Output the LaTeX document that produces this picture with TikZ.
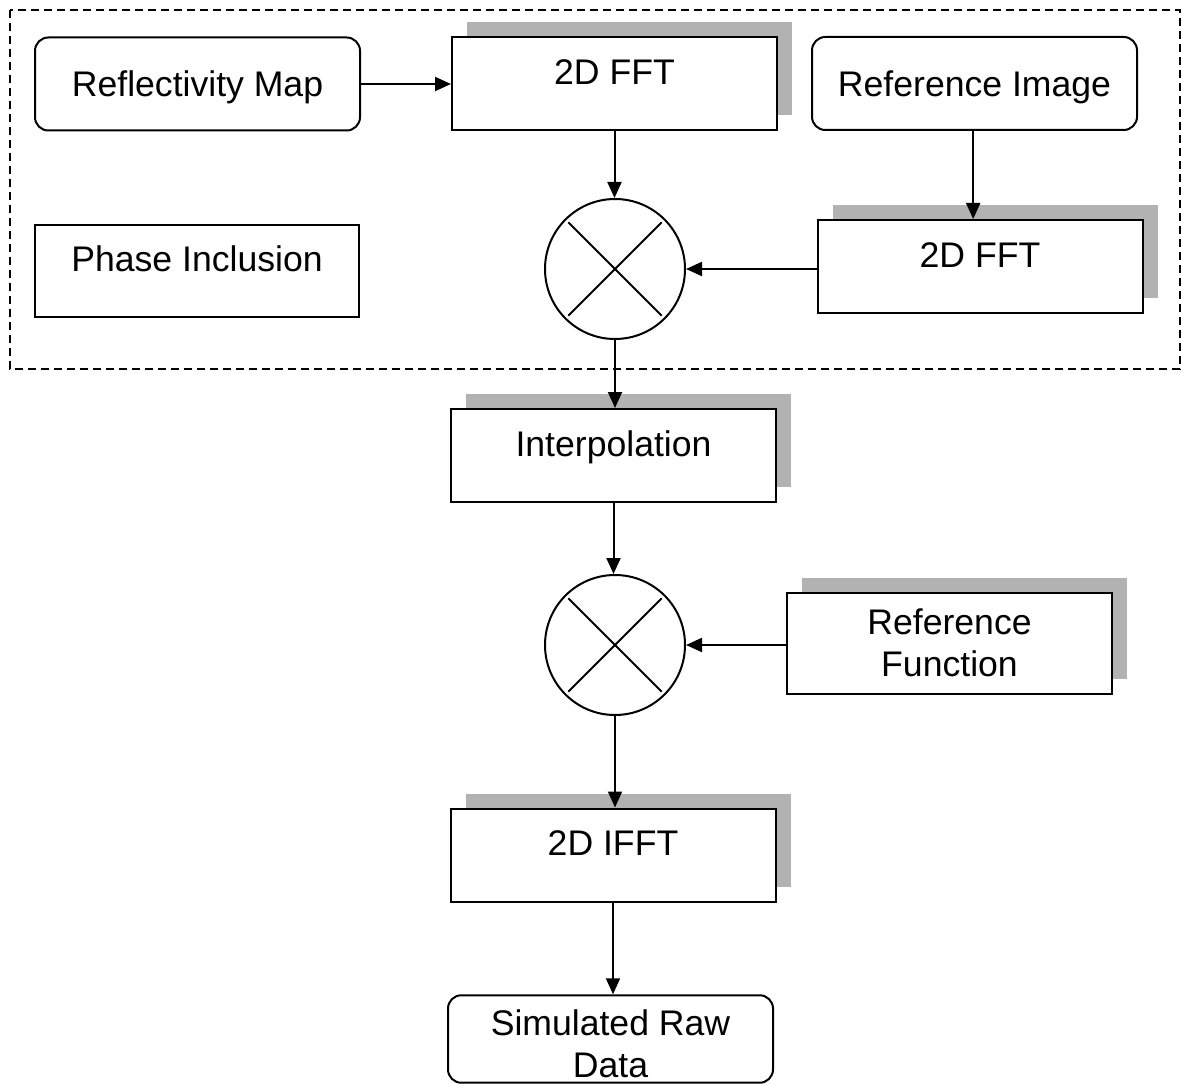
\documentclass[tikz,border=0pt]{standalone}
\usepackage{fontspec}
\setmainfont{Liberation Sans}
\usetikzlibrary{shapes.geometric, arrows.meta, shadows, calc}
\begin{document}
\begin{tikzpicture}[x=0.75pt, y=-0.75pt,
  font=\fontsize{26.7pt}{31.5pt}\selectfont,
  base/.style={draw=black, line width=1.5pt, fill=white, inner sep=0pt,
    minimum width=243.75pt, minimum height=69.75pt},
  rbox/.style={base, rounded corners=10pt, text height=19pt, text depth=0pt},
  shad/.style={general shadow={shadow xshift=11.25pt, shadow yshift=11.25pt, fill=black!30}},
  sbox/.style={base, shad, text height=19pt, text depth=18pt},
  pbox/.style={base, text height=19pt, text depth=18pt},
  tbox/.style={base, shad, align=center},
  mult/.style={circle, draw, line width=1.5pt, minimum size=105pt, inner sep=0pt, fill=white},
  arr/.style={line width=1.5pt, -{Triangle[length=12pt,width=10.5pt]}},
  grp/.style={line width=1.5pt, dash pattern=on 6pt off 3.75pt},
  crossline/.style={line width=1.5pt}
]
\useasboundingbox (0,0) rectangle (1181,1084);

% grouping frame
\draw[grp] (10,10) rectangle (1180,369);

% nodes
\node[rbox] (refl) at (197.5,84) {Reflectivity Map};
\node[sbox] (fft1) at (614.5,83.5) {2D FFT};
\node[rbox] (refimg) at (974.5,83.5) {Reference Image};
\node[pbox, minimum width=243pt, minimum height=69pt] (phase) at (197,271) {Phase Inclusion};
\node[sbox] (fft2) at (980,266.5) {2D FFT};
\node[mult] (mult1) at (615,269) {};
\node[sbox] (interp) at (613.5,455.5) {Interpolation};
\node[mult] (mult2) at (615,645) {};
\node[tbox, minimum height=75.75pt] (reffun) at (949.5,643) {Reference\\Function};
\node[sbox] (ifft) at (613,855) {2D IFFT};
\node[base, rounded corners=10pt, align=center, minimum height=65.6pt] (sim) at (610.5,1039) {\rule{0pt}{27pt}Simulated Raw\\Data};

% crosses in multipliers
\foreach \m in {mult1, mult2} {
  \draw[crossline] ($(\m.center)!0.93!(\m.north east)$) -- ($(\m.center)!0.93!(\m.south west)$);
  \draw[crossline] ($(\m.center)!0.93!(\m.north west)$) -- ($(\m.center)!0.93!(\m.south east)$);
}

% connectors
\draw[arr] (refl.east) -- (fft1.west |- refl.east);
\draw[arr] (fft1.south) -- (fft1.south |- mult1.north);
\draw[arr] ([xshift=-1pt]refimg.south) -- ([xshift=-1pt]refimg.south |- fft2.north);
\draw[arr] (fft2.west |- mult1.east) -- (mult1.east);
\draw[arr] (mult1.south) -- (mult1.south |- interp.north);
\draw[arr] (interp.south) -- (interp.south |- mult2.north);
\draw[arr] (reffun.west |- mult2.east) -- (mult2.east);
\draw[arr] (mult2.south) -- (mult2.south |- ifft.north);
\draw[arr] (ifft.south) -- (ifft.south |- sim.north);
\end{tikzpicture}
\end{document}
